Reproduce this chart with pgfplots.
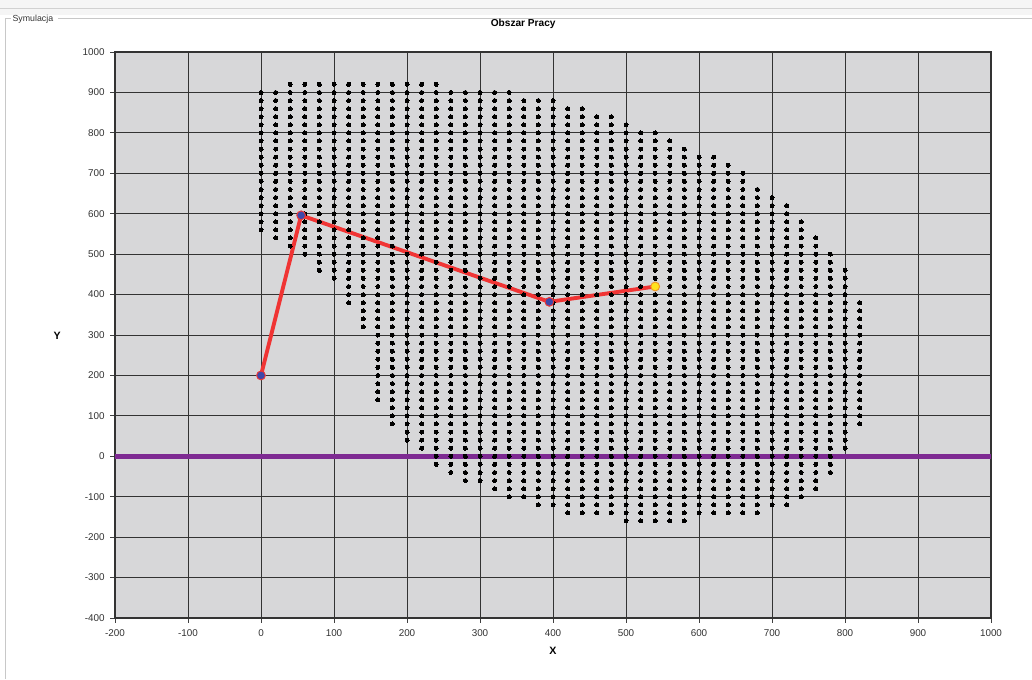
\documentclass[border=0pt]{standalone}
\usepackage{pgfplots}
\pgfplotsset{compat=1.18}
\usepackage{fontspec}
\setmainfont{Liberation Sans}
\definecolor{plotgray}{RGB}{215,215,217}
\definecolor{armred}{RGB}{240,52,52}
\definecolor{jointblue}{RGB}{62,72,170}
\definecolor{effyellow}{RGB}{255,226,30}
\definecolor{effedge}{RGB}{240,150,40}
\definecolor{linepurple}{RGB}{126,42,146}
\definecolor{framegray}{RGB}{200,200,200}
\begin{document}
\begin{tikzpicture}
\useasboundingbox (-86.25pt,-45.75pt) rectangle (687.75pt,463.5pt);
\fill[white] (-86.25pt,-45.75pt) rectangle (687.75pt,463.5pt);
% window frame
\fill[black!4] (-86.25pt,452pt) rectangle (687.75pt,463.5pt);
\draw[black!18, line width=1.2pt] (-86.25pt,457.2pt) -- (687.75pt,457.2pt);
\draw[framegray, line width=0.75pt] (-78pt,449.6pt) -- (-81.75pt,449.6pt) -- (-81.75pt,-46pt);
\draw[framegray, line width=0.75pt] (-42.5pt,449.6pt) -- (688pt,449.6pt);
\node[anchor=west, inner sep=0pt, font=\fontsize{6.6}{7}\selectfont, text=black!80] at (-77pt,449.2pt) {Symulacja};
\begin{axis}[
  at={(0pt,0pt)}, anchor=south west,
  scale only axis, width=657pt, height=424.5pt,
  xmin=-200, xmax=1000, ymin=-400, ymax=1000,
  xtick={-200,-100,0,100,200,300,400,500,600,700,800,900,1000},
  xticklabels={-200,-100,0,100,200,300,400,500,600,700,800,900,1000},
  ytick={-400,-300,-200,-100,0,100,200,300,400,500,600,700,800,900,1000},
  yticklabels={-400,-300,-200,-100,0,100,200,300,400,500,600,700,800,900,1000},
  tick pos=left, tick align=outside, major tick length=3.6pt,
  tick style={black!75, line width=0.6pt},
  grid=major, major grid style={black!80, line width=0.7pt},
  axis line style={black!80, line width=0.8pt},
  axis background/.style={fill=plotgray},
  ticklabel style={font=\fontsize{7.4}{8}\selectfont, text=black!80},
  xticklabel style={yshift=-1.2pt},
  yticklabel style={xshift=-0.6pt},
  title={\bfseries Obszar Pracy},
  title style={at={(axis description cs:0.466,1.035)}, anchor=center, font=\fontsize{7.6}{8}\selectfont},
  xlabel={\bfseries X}, ylabel={\bfseries Y},
  xlabel style={at={(axis description cs:0.5,-0.058)}, anchor=center, font=\fontsize{8}{9}\selectfont},
  ylabel style={at={(axis description cs:-0.066,0.498)}, anchor=center, rotate=-90, font=\fontsize{8}{9}\selectfont},
  clip=true,
]
\addplot[only marks, mark=*, mark size=1.5pt, black, mark options={draw=black, fill=black, line width=0pt}] coordinates {
(0,560)(0,580)(0,600)(0,620)(0,640)(0,660)(0,680)(0,700)(0,720)(0,740)(0,760)(0,780)(0,800)(0,820)(0,840)(0,860)(0,880)(0,900)
(20,540)(20,560)(20,580)(20,600)(20,620)(20,640)(20,660)(20,680)(20,700)(20,720)(20,740)(20,760)(20,780)(20,800)(20,820)(20,840)(20,860)(20,880)(20,900)
(40,520)(40,540)(40,560)(40,580)(40,600)(40,620)(40,640)(40,660)(40,680)(40,700)(40,720)(40,740)(40,760)(40,780)(40,800)(40,820)(40,840)(40,860)(40,880)(40,900)(40,920)
(60,500)(60,520)(60,540)(60,560)(60,580)(60,600)(60,620)(60,640)(60,660)(60,680)(60,700)(60,720)(60,740)(60,760)(60,780)(60,800)(60,820)(60,840)(60,860)(60,880)(60,900)(60,920)
(80,460)(80,480)(80,500)(80,520)(80,540)(80,560)(80,580)(80,600)(80,620)(80,640)(80,660)(80,680)(80,700)(80,720)(80,740)(80,760)(80,780)(80,800)(80,820)(80,840)(80,860)(80,880)(80,900)(80,920)
(100,440)(100,460)(100,480)(100,500)(100,520)(100,540)(100,560)(100,580)(100,600)(100,620)(100,640)(100,660)(100,680)(100,700)(100,720)(100,740)(100,760)(100,780)(100,800)(100,820)(100,840)(100,860)(100,880)(100,900)(100,920)
(120,380)(120,400)(120,420)(120,440)(120,460)(120,480)(120,500)(120,520)(120,540)(120,560)(120,580)(120,600)(120,620)(120,640)(120,660)(120,680)(120,700)(120,720)(120,740)(120,760)(120,780)(120,800)(120,820)(120,840)(120,860)(120,880)(120,900)(120,920)
(140,320)(140,340)(140,360)(140,380)(140,400)(140,420)(140,440)(140,460)(140,480)(140,500)(140,520)(140,540)(140,560)(140,580)(140,600)(140,620)(140,640)(140,660)(140,680)(140,700)(140,720)(140,740)(140,760)(140,780)(140,800)(140,820)(140,840)(140,860)(140,880)(140,900)(140,920)
(160,140)(160,160)(160,180)(160,200)(160,220)(160,240)(160,260)(160,280)(160,300)(160,320)(160,340)(160,360)(160,380)(160,400)(160,420)(160,440)(160,460)(160,480)(160,500)(160,520)(160,540)(160,560)(160,580)(160,600)(160,620)(160,640)(160,660)(160,680)(160,700)(160,720)(160,740)(160,760)(160,780)(160,800)(160,820)(160,840)(160,860)(160,880)(160,900)(160,920)
(180,80)(180,100)(180,120)(180,140)(180,160)(180,180)(180,200)(180,220)(180,240)(180,260)(180,280)(180,300)(180,320)(180,340)(180,360)(180,380)(180,400)(180,420)(180,440)(180,460)(180,480)(180,500)(180,520)(180,540)(180,560)(180,580)(180,600)(180,620)(180,640)(180,660)(180,680)(180,700)(180,720)(180,740)(180,760)(180,780)(180,800)(180,820)(180,840)(180,860)(180,880)(180,900)(180,920)
(200,40)(200,60)(200,80)(200,100)(200,120)(200,140)(200,160)(200,180)(200,200)(200,220)(200,240)(200,260)(200,280)(200,300)(200,320)(200,340)(200,360)(200,380)(200,400)(200,420)(200,440)(200,460)(200,480)(200,500)(200,520)(200,540)(200,560)(200,580)(200,600)(200,620)(200,640)(200,660)(200,680)(200,700)(200,720)(200,740)(200,760)(200,780)(200,800)(200,820)(200,840)(200,860)(200,880)(200,900)(200,920)
(220,20)(220,40)(220,60)(220,80)(220,100)(220,120)(220,140)(220,160)(220,180)(220,200)(220,220)(220,240)(220,260)(220,280)(220,300)(220,320)(220,340)(220,360)(220,380)(220,400)(220,420)(220,440)(220,460)(220,480)(220,500)(220,520)(220,540)(220,560)(220,580)(220,600)(220,620)(220,640)(220,660)(220,680)(220,700)(220,720)(220,740)(220,760)(220,780)(220,800)(220,820)(220,840)(220,860)(220,880)(220,900)(220,920)
(240,-20)(240,0)(240,20)(240,40)(240,60)(240,80)(240,100)(240,120)(240,140)(240,160)(240,180)(240,200)(240,220)(240,240)(240,260)(240,280)(240,300)(240,320)(240,340)(240,360)(240,380)(240,400)(240,420)(240,440)(240,460)(240,480)(240,500)(240,520)(240,540)(240,560)(240,580)(240,600)(240,620)(240,640)(240,660)(240,680)(240,700)(240,720)(240,740)(240,760)(240,780)(240,800)(240,820)(240,840)(240,860)(240,880)(240,900)(240,920)
(260,-40)(260,-20)(260,0)(260,20)(260,40)(260,60)(260,80)(260,100)(260,120)(260,140)(260,160)(260,180)(260,200)(260,220)(260,240)(260,260)(260,280)(260,300)(260,320)(260,340)(260,360)(260,380)(260,400)(260,420)(260,440)(260,460)(260,480)(260,500)(260,520)(260,540)(260,560)(260,580)(260,600)(260,620)(260,640)(260,660)(260,680)(260,700)(260,720)(260,740)(260,760)(260,780)(260,800)(260,820)(260,840)(260,860)(260,880)(260,900)
(280,-60)(280,-40)(280,-20)(280,0)(280,20)(280,40)(280,60)(280,80)(280,100)(280,120)(280,140)(280,160)(280,180)(280,200)(280,220)(280,240)(280,260)(280,280)(280,300)(280,320)(280,340)(280,360)(280,380)(280,400)(280,420)(280,440)(280,460)(280,480)(280,500)(280,520)(280,540)(280,560)(280,580)(280,600)(280,620)(280,640)(280,660)(280,680)(280,700)(280,720)(280,740)(280,760)(280,780)(280,800)(280,820)(280,840)(280,860)(280,880)(280,900)
(300,-60)(300,-40)(300,-20)(300,0)(300,20)(300,40)(300,60)(300,80)(300,100)(300,120)(300,140)(300,160)(300,180)(300,200)(300,220)(300,240)(300,260)(300,280)(300,300)(300,320)(300,340)(300,360)(300,380)(300,400)(300,420)(300,440)(300,460)(300,480)(300,500)(300,520)(300,540)(300,560)(300,580)(300,600)(300,620)(300,640)(300,660)(300,680)(300,700)(300,720)(300,740)(300,760)(300,780)(300,800)(300,820)(300,840)(300,860)(300,880)(300,900)
(320,-80)(320,-60)(320,-40)(320,-20)(320,0)(320,20)(320,40)(320,60)(320,80)(320,100)(320,120)(320,140)(320,160)(320,180)(320,200)(320,220)(320,240)(320,260)(320,280)(320,300)(320,320)(320,340)(320,360)(320,380)(320,400)(320,420)(320,440)(320,460)(320,480)(320,500)(320,520)(320,540)(320,560)(320,580)(320,600)(320,620)(320,640)(320,660)(320,680)(320,700)(320,720)(320,740)(320,760)(320,780)(320,800)(320,820)(320,840)(320,860)(320,880)(320,900)
(340,-100)(340,-80)(340,-60)(340,-40)(340,-20)(340,0)(340,20)(340,40)(340,60)(340,80)(340,100)(340,120)(340,140)(340,160)(340,180)(340,200)(340,220)(340,240)(340,260)(340,280)(340,300)(340,320)(340,340)(340,360)(340,380)(340,400)(340,420)(340,440)(340,460)(340,480)(340,500)(340,520)(340,540)(340,560)(340,580)(340,600)(340,620)(340,640)(340,660)(340,680)(340,700)(340,720)(340,740)(340,760)(340,780)(340,800)(340,820)(340,840)(340,860)(340,880)(340,900)
(360,-100)(360,-80)(360,-60)(360,-40)(360,-20)(360,0)(360,20)(360,40)(360,60)(360,80)(360,100)(360,120)(360,140)(360,160)(360,180)(360,200)(360,220)(360,240)(360,260)(360,280)(360,300)(360,320)(360,340)(360,360)(360,380)(360,400)(360,420)(360,440)(360,460)(360,480)(360,500)(360,520)(360,540)(360,560)(360,580)(360,600)(360,620)(360,640)(360,660)(360,680)(360,700)(360,720)(360,740)(360,760)(360,780)(360,800)(360,820)(360,840)(360,860)(360,880)
(380,-120)(380,-100)(380,-80)(380,-60)(380,-40)(380,-20)(380,0)(380,20)(380,40)(380,60)(380,80)(380,100)(380,120)(380,140)(380,160)(380,180)(380,200)(380,220)(380,240)(380,260)(380,280)(380,300)(380,320)(380,340)(380,360)(380,380)(380,400)(380,420)(380,440)(380,460)(380,480)(380,500)(380,520)(380,540)(380,560)(380,580)(380,600)(380,620)(380,640)(380,660)(380,680)(380,700)(380,720)(380,740)(380,760)(380,780)(380,800)(380,820)(380,840)(380,860)(380,880)
(400,-120)(400,-100)(400,-80)(400,-60)(400,-40)(400,-20)(400,0)(400,20)(400,40)(400,60)(400,80)(400,100)(400,120)(400,140)(400,160)(400,180)(400,200)(400,220)(400,240)(400,260)(400,280)(400,300)(400,320)(400,340)(400,360)(400,380)(400,400)(400,420)(400,440)(400,460)(400,480)(400,500)(400,520)(400,540)(400,560)(400,580)(400,600)(400,620)(400,640)(400,660)(400,680)(400,700)(400,720)(400,740)(400,760)(400,780)(400,800)(400,820)(400,840)(400,860)(400,880)
(420,-140)(420,-120)(420,-100)(420,-80)(420,-60)(420,-40)(420,-20)(420,0)(420,20)(420,40)(420,60)(420,80)(420,100)(420,120)(420,140)(420,160)(420,180)(420,200)(420,220)(420,240)(420,260)(420,280)(420,300)(420,320)(420,340)(420,360)(420,380)(420,400)(420,420)(420,440)(420,460)(420,480)(420,500)(420,520)(420,540)(420,560)(420,580)(420,600)(420,620)(420,640)(420,660)(420,680)(420,700)(420,720)(420,740)(420,760)(420,780)(420,800)(420,820)(420,840)(420,860)
(440,-140)(440,-120)(440,-100)(440,-80)(440,-60)(440,-40)(440,-20)(440,0)(440,20)(440,40)(440,60)(440,80)(440,100)(440,120)(440,140)(440,160)(440,180)(440,200)(440,220)(440,240)(440,260)(440,280)(440,300)(440,320)(440,340)(440,360)(440,380)(440,400)(440,420)(440,440)(440,460)(440,480)(440,500)(440,520)(440,540)(440,560)(440,580)(440,600)(440,620)(440,640)(440,660)(440,680)(440,700)(440,720)(440,740)(440,760)(440,780)(440,800)(440,820)(440,840)(440,860)
(460,-140)(460,-120)(460,-100)(460,-80)(460,-60)(460,-40)(460,-20)(460,0)(460,20)(460,40)(460,60)(460,80)(460,100)(460,120)(460,140)(460,160)(460,180)(460,200)(460,220)(460,240)(460,260)(460,280)(460,300)(460,320)(460,340)(460,360)(460,380)(460,400)(460,420)(460,440)(460,460)(460,480)(460,500)(460,520)(460,540)(460,560)(460,580)(460,600)(460,620)(460,640)(460,660)(460,680)(460,700)(460,720)(460,740)(460,760)(460,780)(460,800)(460,820)(460,840)
(480,-140)(480,-120)(480,-100)(480,-80)(480,-60)(480,-40)(480,-20)(480,0)(480,20)(480,40)(480,60)(480,80)(480,100)(480,120)(480,140)(480,160)(480,180)(480,200)(480,220)(480,240)(480,260)(480,280)(480,300)(480,320)(480,340)(480,360)(480,380)(480,400)(480,420)(480,440)(480,460)(480,480)(480,500)(480,520)(480,540)(480,560)(480,580)(480,600)(480,620)(480,640)(480,660)(480,680)(480,700)(480,720)(480,740)(480,760)(480,780)(480,800)(480,820)(480,840)
(500,-160)(500,-140)(500,-120)(500,-100)(500,-80)(500,-60)(500,-40)(500,-20)(500,0)(500,20)(500,40)(500,60)(500,80)(500,100)(500,120)(500,140)(500,160)(500,180)(500,200)(500,220)(500,240)(500,260)(500,280)(500,300)(500,320)(500,340)(500,360)(500,380)(500,400)(500,420)(500,440)(500,460)(500,480)(500,500)(500,520)(500,540)(500,560)(500,580)(500,600)(500,620)(500,640)(500,660)(500,680)(500,700)(500,720)(500,740)(500,760)(500,780)(500,800)(500,820)
(520,-160)(520,-140)(520,-120)(520,-100)(520,-80)(520,-60)(520,-40)(520,-20)(520,0)(520,20)(520,40)(520,60)(520,80)(520,100)(520,120)(520,140)(520,160)(520,180)(520,200)(520,220)(520,240)(520,260)(520,280)(520,300)(520,320)(520,340)(520,360)(520,380)(520,400)(520,420)(520,440)(520,460)(520,480)(520,500)(520,520)(520,540)(520,560)(520,580)(520,600)(520,620)(520,640)(520,660)(520,680)(520,700)(520,720)(520,740)(520,760)(520,780)(520,800)
(540,-160)(540,-140)(540,-120)(540,-100)(540,-80)(540,-60)(540,-40)(540,-20)(540,0)(540,20)(540,40)(540,60)(540,80)(540,100)(540,120)(540,140)(540,160)(540,180)(540,200)(540,220)(540,240)(540,260)(540,280)(540,300)(540,320)(540,340)(540,360)(540,380)(540,400)(540,420)(540,440)(540,460)(540,480)(540,500)(540,520)(540,540)(540,560)(540,580)(540,600)(540,620)(540,640)(540,660)(540,680)(540,700)(540,720)(540,740)(540,760)(540,780)(540,800)
(560,-160)(560,-140)(560,-120)(560,-100)(560,-80)(560,-60)(560,-40)(560,-20)(560,0)(560,20)(560,40)(560,60)(560,80)(560,100)(560,120)(560,140)(560,160)(560,180)(560,200)(560,220)(560,240)(560,260)(560,280)(560,300)(560,320)(560,340)(560,360)(560,380)(560,400)(560,420)(560,440)(560,460)(560,480)(560,500)(560,520)(560,540)(560,560)(560,580)(560,600)(560,620)(560,640)(560,660)(560,680)(560,700)(560,720)(560,740)(560,760)(560,780)
(580,-160)(580,-140)(580,-120)(580,-100)(580,-80)(580,-60)(580,-40)(580,-20)(580,0)(580,20)(580,40)(580,60)(580,80)(580,100)(580,120)(580,140)(580,160)(580,180)(580,200)(580,220)(580,240)(580,260)(580,280)(580,300)(580,320)(580,340)(580,360)(580,380)(580,400)(580,420)(580,440)(580,460)(580,480)(580,500)(580,520)(580,540)(580,560)(580,580)(580,600)(580,620)(580,640)(580,660)(580,680)(580,700)(580,720)(580,740)(580,760)
(600,-140)(600,-120)(600,-100)(600,-80)(600,-60)(600,-40)(600,-20)(600,0)(600,20)(600,40)(600,60)(600,80)(600,100)(600,120)(600,140)(600,160)(600,180)(600,200)(600,220)(600,240)(600,260)(600,280)(600,300)(600,320)(600,340)(600,360)(600,380)(600,400)(600,420)(600,440)(600,460)(600,480)(600,500)(600,520)(600,540)(600,560)(600,580)(600,600)(600,620)(600,640)(600,660)(600,680)(600,700)(600,720)(600,740)
(620,-140)(620,-120)(620,-100)(620,-80)(620,-60)(620,-40)(620,-20)(620,0)(620,20)(620,40)(620,60)(620,80)(620,100)(620,120)(620,140)(620,160)(620,180)(620,200)(620,220)(620,240)(620,260)(620,280)(620,300)(620,320)(620,340)(620,360)(620,380)(620,400)(620,420)(620,440)(620,460)(620,480)(620,500)(620,520)(620,540)(620,560)(620,580)(620,600)(620,620)(620,640)(620,660)(620,680)(620,700)(620,720)(620,740)
(640,-140)(640,-120)(640,-100)(640,-80)(640,-60)(640,-40)(640,-20)(640,0)(640,20)(640,40)(640,60)(640,80)(640,100)(640,120)(640,140)(640,160)(640,180)(640,200)(640,220)(640,240)(640,260)(640,280)(640,300)(640,320)(640,340)(640,360)(640,380)(640,400)(640,420)(640,440)(640,460)(640,480)(640,500)(640,520)(640,540)(640,560)(640,580)(640,600)(640,620)(640,640)(640,660)(640,680)(640,700)(640,720)
(660,-140)(660,-120)(660,-100)(660,-80)(660,-60)(660,-40)(660,-20)(660,0)(660,20)(660,40)(660,60)(660,80)(660,100)(660,120)(660,140)(660,160)(660,180)(660,200)(660,220)(660,240)(660,260)(660,280)(660,300)(660,320)(660,340)(660,360)(660,380)(660,400)(660,420)(660,440)(660,460)(660,480)(660,500)(660,520)(660,540)(660,560)(660,580)(660,600)(660,620)(660,640)(660,660)(660,680)(660,700)
(680,-140)(680,-120)(680,-100)(680,-80)(680,-60)(680,-40)(680,-20)(680,0)(680,20)(680,40)(680,60)(680,80)(680,100)(680,120)(680,140)(680,160)(680,180)(680,200)(680,220)(680,240)(680,260)(680,280)(680,300)(680,320)(680,340)(680,360)(680,380)(680,400)(680,420)(680,440)(680,460)(680,480)(680,500)(680,520)(680,540)(680,560)(680,580)(680,600)(680,620)(680,640)(680,660)
(700,-120)(700,-100)(700,-80)(700,-60)(700,-40)(700,-20)(700,0)(700,20)(700,40)(700,60)(700,80)(700,100)(700,120)(700,140)(700,160)(700,180)(700,200)(700,220)(700,240)(700,260)(700,280)(700,300)(700,320)(700,340)(700,360)(700,380)(700,400)(700,420)(700,440)(700,460)(700,480)(700,500)(700,520)(700,540)(700,560)(700,580)(700,600)(700,620)(700,640)
(720,-120)(720,-100)(720,-80)(720,-60)(720,-40)(720,-20)(720,0)(720,20)(720,40)(720,60)(720,80)(720,100)(720,120)(720,140)(720,160)(720,180)(720,200)(720,220)(720,240)(720,260)(720,280)(720,300)(720,320)(720,340)(720,360)(720,380)(720,400)(720,420)(720,440)(720,460)(720,480)(720,500)(720,520)(720,540)(720,560)(720,580)(720,600)(720,620)
(740,-100)(740,-80)(740,-60)(740,-40)(740,-20)(740,0)(740,20)(740,40)(740,60)(740,80)(740,100)(740,120)(740,140)(740,160)(740,180)(740,200)(740,220)(740,240)(740,260)(740,280)(740,300)(740,320)(740,340)(740,360)(740,380)(740,400)(740,420)(740,440)(740,460)(740,480)(740,500)(740,520)(740,540)(740,560)(740,580)
(760,-80)(760,-60)(760,-40)(760,-20)(760,0)(760,20)(760,40)(760,60)(760,80)(760,100)(760,120)(760,140)(760,160)(760,180)(760,200)(760,220)(760,240)(760,260)(760,280)(760,300)(760,320)(760,340)(760,360)(760,380)(760,400)(760,420)(760,440)(760,460)(760,480)(760,500)(760,520)(760,540)
(780,-40)(780,-20)(780,0)(780,20)(780,40)(780,60)(780,80)(780,100)(780,120)(780,140)(780,160)(780,180)(780,200)(780,220)(780,240)(780,260)(780,280)(780,300)(780,320)(780,340)(780,360)(780,380)(780,400)(780,420)(780,440)(780,460)(780,480)(780,500)
(800,20)(800,40)(800,60)(800,80)(800,100)(800,120)(800,140)(800,160)(800,180)(800,200)(800,220)(800,240)(800,260)(800,280)(800,300)(800,320)(800,340)(800,360)(800,380)(800,400)(800,420)(800,440)(800,460)
(820,80)(820,100)(820,120)(820,140)(820,160)(820,180)(820,200)(820,220)(820,240)(820,260)(820,280)(820,300)(820,320)(820,340)(820,360)(820,380)
};
\addplot[linepurple, line width=3.8pt, mark=none] coordinates {(-200,0)(1000,0)};
\addplot[armred, line width=2.9pt, mark=none] coordinates {(0,200)(55,596)(395,382)(540,420)};
\addplot[only marks, mark=*, mark size=3.3pt, mark options={fill=jointblue, draw=armred, line width=0.7pt}] coordinates {(0,200)(55,596)(395,382)};
\addplot[only marks, mark=*, mark size=3.3pt, mark options={fill=effyellow, draw=effedge, line width=0.7pt}] coordinates {(540,420)};
\end{axis}
\end{tikzpicture}
\end{document}
